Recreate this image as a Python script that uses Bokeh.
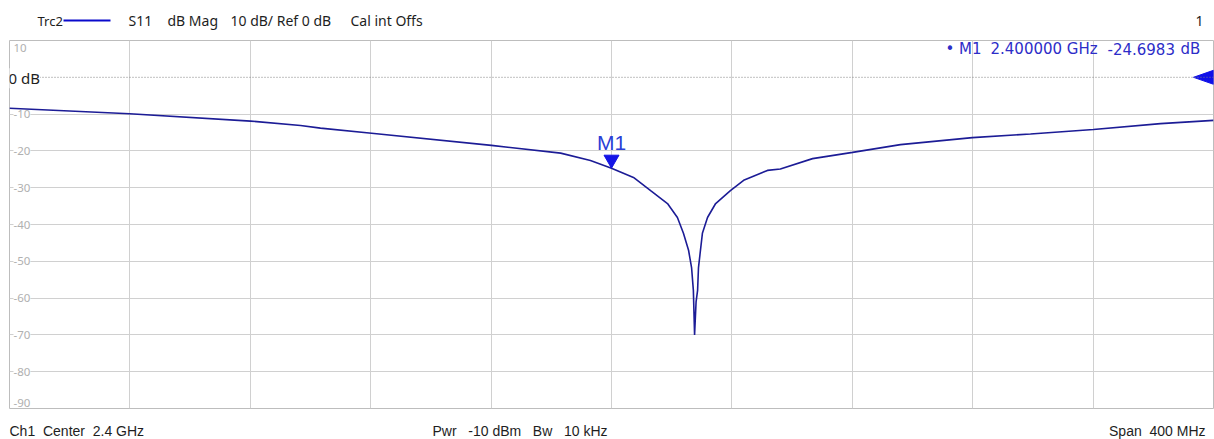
from bokeh.plotting import figure
from bokeh.layouts import column
from bokeh.models import Range1d, Grid, FixedTicker, Label, Span
from bokeh.embed import file_html
from bokeh.resources import INLINE

# ---------------- data ----------------
freq_ghz = [2.2000, 2.2399, 2.2801, 2.2967, 2.3033, 2.3203, 2.3601, 2.3831, 2.3930,
            2.4000, 2.4073, 2.4130, 2.4186, 2.4219, 2.4239, 2.4256, 2.4266, 2.4272,
            2.4276, 2.4281, 2.4286, 2.4289, 2.4302, 2.4319, 2.4346, 2.4395, 2.4439,
            2.4518, 2.4561, 2.4668, 2.4801, 2.4960, 2.5199, 2.5392, 2.5601, 2.5824, 2.6000]
s11_db = [-8.4, -9.9, -11.9, -13.1, -13.8, -15.2, -18.5, -20.6, -22.6,
          -24.7, -27.2, -30.8, -34.3, -38.1, -42.4, -47.0, -51.7, -57.9,
          -70.0, -61.0, -57.9, -51.7, -42.4, -38.1, -34.3, -30.8, -28.0,
          -25.3, -24.9, -22.1, -20.4, -18.3, -16.4, -15.4, -14.2, -12.6, -11.7]

center_ghz = 2.4
span_ghz = 0.4
y_top, y_bottom = 10, -90
y_ticks = [10, -10, -20, -30, -40, -50, -60, -70, -80, -90]
ref_level = 0
m1_freq = 2.4
m1_val = -24.6983

NB = "\u00a0"
header_trc = "Trc2"
header_parts = ["S11", "dB Mag", "10 dB/ Ref 0 dB", "Cal int Offs"]
footer_parts = [f"Ch1{NB*2}Center{NB*2}2.4 GHz", f"Pwr{NB*3}-10 dBm{NB*3}Bw{NB*3}10 kHz",
                f"Span{NB*2}400 MHz"]
marker_parts = ["\u2022 M1", "2.400000 GHz", "-24.6983", "dB"]

# ---------------- layout ----------------
W = 1214
HEAD_H, MAIN_H, FOOT_H = 39, 370, 30
ML, MR, MT, MB = 9, 1, 1, 1
FW, FH = W - ML - MR, MAIN_H - MT - MB

x0, x1 = center_ghz - span_ghz / 2, center_ghz + span_ghz / 2
px_x = (x1 - x0) / FW
px_y = (y_top - y_bottom) / FH


def blank(h):
    # page-pixel coordinates; frame aligned with the main plot frame
    f = figure(width=W, height=h, x_range=Range1d(ML, W - MR), y_range=Range1d(0, h),
               output_backend="svg", toolbar_location=None,
               x_axis_location=None, y_axis_location=None,
               min_border_left=ML, min_border_right=MR, min_border_top=0, min_border_bottom=0)
    f.outline_line_color = None
    f.xgrid.visible = False
    f.ygrid.visible = False
    return f


TXT = "#1e1e1e"

# header
head = blank(HEAD_H)
hy = HEAD_H - 20
head.add_layout(Label(x=37, y=hy, text=header_trc, text_font="Noto Sans", text_font_size="13px",
                      text_color=TXT, text_baseline="middle", text_align="left"))
head.line([63, 110], [hy, hy], line_color="#0a0acc", line_width=2)
for txt, xx in zip(header_parts, [128, 167, 230, 350]):
    head.add_layout(Label(x=xx, y=hy, text=txt, text_font="Noto Sans", text_font_size="14px",
                          text_color=TXT, text_baseline="middle", text_align="left"))
head.add_layout(Label(x=1203, y=hy, text="1", text_font="Noto Sans", text_font_size="14px",
                      text_color=TXT, text_baseline="middle", text_align="right"))

# main
p = figure(width=W, height=MAIN_H, x_range=Range1d(x0, x1), y_range=Range1d(y_bottom, y_top),
           output_backend="svg", toolbar_location=None,
           x_axis_location=None, y_axis_location=None,
           min_border_left=ML, min_border_right=MR, min_border_top=MT, min_border_bottom=MB)
p.outline_line_color = "#bdbdbd"
p.outline_line_width = 1
p.xgrid.visible = False
p.ygrid.visible = False

x_ticks = [x0 + i * span_ghz / 10 for i in range(1, 10)]
p.add_layout(Grid(dimension=0, ticker=FixedTicker(ticks=x_ticks), grid_line_color="#d0d0d0"))
p.add_layout(Grid(dimension=1, ticker=FixedTicker(ticks=[t for t in y_ticks if t not in (y_top, y_bottom)]),
                  grid_line_color="#d0d0d0"))

p.add_layout(Span(location=ref_level, dimension="width", line_color="#808080",
                  line_dash="1 2", line_width=1))

for t in y_ticks:
    off = 0
    if t == y_top:
        off = -7
    elif t == y_bottom:
        off = 6
    p.add_layout(Label(x=4, x_units="screen", y=t, y_offset=off, text=str(t),
                       text_font="Noto Sans", text_font_size="11.5px", text_color="#b0b0b0",
                       text_baseline="middle", text_align="left",
                       background_fill_color="white", background_fill_alpha=1.0))

p.add_layout(Label(x=-1, x_units="screen", y=ref_level, y_offset=-1, text="0 dB",
                   text_font="Noto Sans", text_font_size="15px", text_color=TXT,
                   text_baseline="middle", text_align="left",
                   background_fill_color="white", background_fill_alpha=1.0))

p.line(freq_ghz, s11_db, line_color="#1c1c96", line_width=1.6)

tri_w, tri_h = 20, 14
p.patch([x1 - tri_w * px_x, x1, x1],
        [ref_level, ref_level + tri_h / 2 * px_y, ref_level - tri_h / 2 * px_y],
        fill_color="#1010e8", line_color="#1010e8")

mk_w, mk_h = 15, 13
p.patch([m1_freq, m1_freq - mk_w / 2 * px_x, m1_freq + mk_w / 2 * px_x],
        [m1_val, m1_val + mk_h * px_y, m1_val + mk_h * px_y],
        fill_color="#1414e6", line_color="#1414e6")
p.add_layout(Label(x=m1_freq, y=m1_val, y_offset=26, text="M1",
                   text_font="Liberation Sans", text_font_size="21px", text_color="#2b3ed6",
                   text_baseline="middle", text_align="center"))

for txt, xx in zip(marker_parts, [945, 990, 1107, 1180]):
    p.add_layout(Label(x=xx - ML, x_units="screen", y=FH - 8, y_units="screen", text=txt,
                       text_font="DejaVu Sans", text_font_size="15px", text_color="#2d2dc8",
                       text_baseline="middle", text_align="left"))

# footer
foot = blank(FOOT_H)
fy = FOOT_H - 21
for txt, xx, al in zip(footer_parts, [9, 432, 1205], ["left", "left", "right"]):
    foot.add_layout(Label(x=xx, y=fy, text=txt, text_font="Liberation Sans",
                          text_font_size="14px", text_color=TXT,
                          text_baseline="middle", text_align=al))

layout = column(head, p, foot, spacing=0)
open("out.html", "w").write(file_html(layout, INLINE))
